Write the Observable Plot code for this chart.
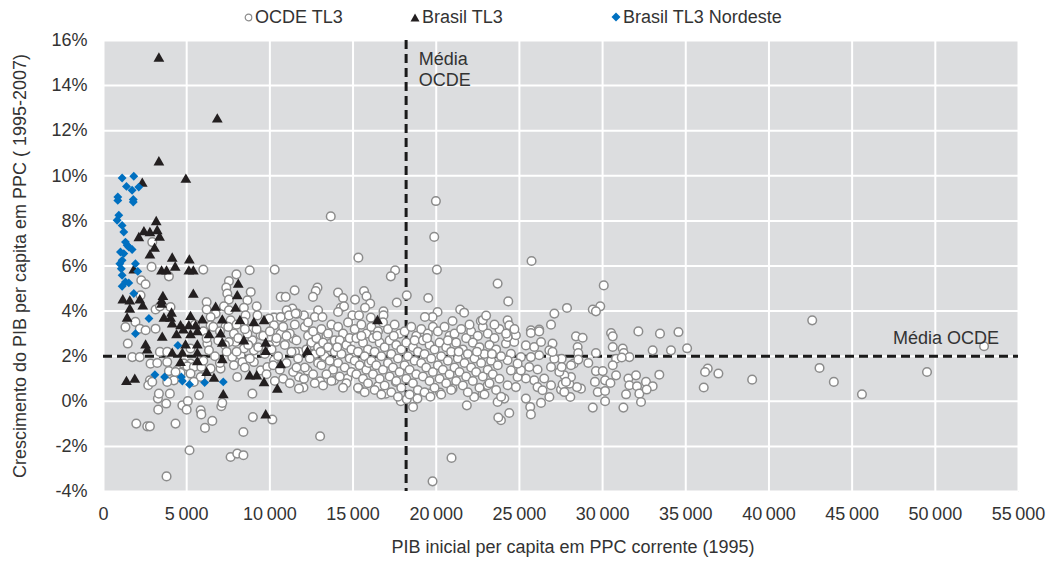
<!DOCTYPE html>
<html>
<head>
<meta charset="utf-8">
<script src="https://cdn.jsdelivr.net/npm/d3@7"></script>
<script src="https://cdn.jsdelivr.net/npm/@observablehq/plot@0.6"></script>
<style>
  html, body { margin: 0; padding: 0; background: white; }
  body { width: 1047px; height: 566px; overflow: hidden; font-family: "Liberation Sans", Arial, sans-serif; }
  #legend { position: relative; height: 30px; font-size: 18px; color: #333; }
  #legend .item { position: absolute; top: 7px; white-space: nowrap; line-height: 20px; }
  #legend svg { vertical-align: middle; margin-right: 2px; position: relative; top: -1px; }
</style>
</head>
<body>
<div id="legend">
  <span class="item" style="left:244px"><svg width="9" height="9"><circle cx="4.5" cy="4.5" r="3.3" fill="white" stroke="#8c8c8c" stroke-width="1.2"/></svg>OCDE TL3</span>
  <span class="item" style="left:410px"><svg width="10" height="9"><path d="M5,0.5 L9.5,8.5 L0.5,8.5 Z" fill="#231f20"/></svg>Brasil TL3</span>
  <span class="item" style="left:611px"><svg width="10" height="10"><path d="M5,0.5 L9.5,5 L5,9.5 L0.5,5 Z" fill="#0070c0"/></svg>Brasil TL3 Nordeste</span>
</div>
<div id="chart"></div>
<script>
// ---- tick values ----
const xTicks = [0, 5000, 10000, 15000, 20000, 25000, 30000, 35000, 40000, 45000, 50000, 55000];
const yTicks = [-4, -2, 0, 2, 4, 6, 8, 10, 12, 14, 16];

// ---- reference lines (OECD averages) ----
const oecdMeanX = [18190];
const oecdMeanY = [2.0];

// ---- series: [initial GDP per capita PPP 1995, growth % 1995-2007] ----
const oecd = [
[13660,8.2],[19980,8.88],[19880,7.29],[20040,5.84],[15320,6.37],[25730,6.22],[30070,5.14],[23690,5.22],[42600,3.59],[52930,2.44],[36320,1.45],[36160,1.3],[36960,1.23],[36080,0.61],[38990,0.96],[43040,1.48],[43900,0.86],[45590,0.31],[49500,1.3],
[13020,-1.55],[20920,-2.51],[19780,-3.55],
[17530,5.81],[17270,5.54],[12860,5.04],[12760,4.89],[12590,4.63],[14100,4.82],[14400,4.58],[15120,4.51],[15660,4.89],[15810,4.66],[16030,4.33],[15720,4.15],[17630,4.38],[18230,4.7],[19520,4.58],[14260,4.15],[14460,4.21],[14100,3.96],[12900,4.04],[12050,3.81],[12700,3.74],[13160,3.74],[14960,3.81],[15360,3.81],[16070,3.71],[16830,3.99],[16830,3.81],[20080,3.96],[21440,4.07],[21680,3.93],[19780,3.74],[19320,3.74],[22680,3.56],[20980,3.56],
[24330,4.43],[27100,3.89],[27860,4.14],[29410,4.07],[29860,4.21],[29600,3.99],[24290,3.59],[24390,3.37],[26900,3.4],[25690,3.15],[26190,3.18],
[25690,3.03],[26190,3.1],[28400,2.88],[28800,2.82],[30510,3.03],[30610,2.88],[32150,3.1],[34560,3.07],[26990,2.56],[26800,2.26],[28500,2.41],[28540,2.14],[29600,2.14],[30610,2.41],[31210,2.34],[31270,2.14],[31610,1.96],[33010,2.26],[34110,2.26],[30810,1.89],[30610,1.6],[31150,1.94],[29140,1.7],[28260,1.67],[28540,1.85],[27540,1.89],[29600,1.34],[30010,1.34],[30810,1.15],[29540,0.86],[30150,0.93],[30470,0.81],[29710,0.41],[30150,0.46],[30150,0],[29410,-0.28],[31550,1.01],[32010,1.15],[31610,0.71],[32070,0.67],[32610,0.86],[33010,0.67],[32210,0.34],[32650,0.52],[32310,-0.03],[31410,0.31],[31250,-0.28],[33410,1.18],[28060,0.19],[28700,0.56],[28460,0.63],[28000,0.78],[27500,0.52],[27600,0.75],[28100,1.08],[27700,1.15],[27400,1.3],[26900,0.71],[26800,0.19],[26300,-0.07],[25650,-0.25],[25690,-0.58],[24390,-0.52],[25390,0.12],[24090,0.12],[23890,-0.84],[26490,1.01],[25890,0.93],[25390,1.01],[24890,1.08],[26090,1.41],[25590,1.52],[25090,1.37],[24490,1.37],[24290,0.71],[24790,0.63],[26090,0.63],[26390,0.49],[27700,0.41],[27540,1.52],[26900,1.52],[27100,1.89],[26190,2.04],[25690,1.96],[25090,1.96],[24490,2.11],[24290,1.82],[24890,1.67],[25390,2.48],[25890,2.41],[26300,2.63],[24690,2.63],[24190,2.56],[24790,2.93],[24290,2.85],[26990,2.19],[28100,1.6],[27800,0.86],
[35080,2.35],[33450,3.0],
[17870,0],[18230,0.09],[18610,-0.25],[23730,-0.72],[23690,-0.03],[21840,-0.18],[12020,0.61],[13020,0.89],[15360,0.56],[16970,0.34],[16500,0.67],[18870,0.12],[19570,0.34],[20230,0.39],[20980,0.56],[22280,0.19],[22790,0.34],[23090,0.71],[12260,1.37],[13860,0.93],[14660,1.01],[17570,0.86],[12460,2.48],
[2930,7.06],[2890,5.96],[2270,5.37],[2530,5.19],[3930,5.54],[6000,5.84],[8790,5.81],[10290,5.84],[7990,5.63],[7540,5.33],[7380,5.04],[7440,4.78],[7540,4.51],[8850,4.85],[8650,4.48],[6200,4.4],[2230,4.7],[3130,4.07],[3390,4.21],[4030,4.18],[7240,4.21],[7540,4.04],[8440,4.15],[9210,4.21],[8540,3.81],[9250,3.81],[10250,3.71],[10650,4.63],[10950,4.63],[11490,4.92],[11350,4.11],[11010,4.04],[11650,3.89],[10810,3.71],[9950,3.67],[7640,3.59],[6740,3.89],[6440,3.74],[6200,4.07],[1320,3.29],[1920,3.52],[2180,3.22],[3130,3.22],[6440,3.37],[7340,3.33],[8440,3.52],[8750,3.22],[10250,3.37],[10650,3.74],[11150,3.81],[11550,3.89],
[1460,2.56],[1730,1.96],[2180,1.96],[2530,3.15],[2830,1.67],[3230,1.7],[3830,1.74],[3930,1.34],[4430,1.37],[4230,0.93],[3830,0.86],[2790,0.93],[2690,0.71],[2930,0.86],[4630,1.26],[5230,1.67],[6440,1.45],[5740,0.27],[3990,0.34],[3270,0.12],[3770,-0.1],[3290,-0.37],[4740,-0.18],[5070,0.01],[5000,-0.37],[5840,-0.4],[5880,-0.58],[7080,-0.22],[7140,-0.07],[8950,0.34],[8040,1.08],[8980,-0.7],[10150,-0.81],[6540,-0.87],[6100,-1.18],[4330,-0.99],[1970,-0.99],[2630,-1.11],[2790,-1.11],[8410,-1.36],[5170,-2.17],[7640,-2.47],[8040,-2.32],[8410,-2.39],[3790,-3.33],[10650,3.0],[11410,2.78],[11750,2.19],[11510,2.19],[11750,1.08],[11750,0.56],[10350,2.63],[9950,2.48],[9450,2.93],[8950,2.71],[8650,3.0],[7840,3.0],[7940,2.63],[7540,2.63],[6240,2.56],[6340,2.26],[7740,1.96],[8240,2.04],[9040,1.74],[9450,1.37],[9850,1.52],[10250,1.82],[9040,2.26],[8440,2.34],[5230,2.34],[3390,2.19],[3830,2.19],[4830,1.67],[4330,1.3],[5040,1.55],[5430,1.52],[5230,1.23],[5880,1.52],[8350,1.74],[7840,1.6],[7040,1.45],[5840,1.08],[5430,0.86],[3330,0.34],
[12100,3.3],[12300,2.9],[12500,2.6],[12200,2.3],[12700,2.1],[12400,1.9],[12900,1.7],[12100,1.5],[12600,1.2],[12800,2.8],[12300,3.5],[12600,3.1],[12900,2.4],[12050,1.0],[12700,0.8],
[13100,3.2],[13400,2.9],[13700,3.4],[13200,2.6],[13500,2.4],[13900,2.2],[13300,2.0],[13600,1.8],[13100,1.6],[13800,1.4],[13400,1.2],[13700,0.9],[13200,0.7],[13900,2.7],[13500,3.0],[13050,2.2],
[14100,3.3],[14400,3.0],[14700,3.5],[14200,2.7],[14600,2.5],[14900,2.3],[14300,2.1],[14800,1.9],[14100,1.7],[14500,1.5],[14900,1.3],[14200,1.1],[14600,0.8],[14400,0.6],[14800,2.8],[14050,2.4],
[15100,3.2],[15500,3.4],[15800,3.0],[15200,2.8],[15600,2.6],[15900,2.3],[15300,2.2],[15700,2.0],[15100,1.8],[15400,1.6],[15800,1.4],[15200,1.2],[15600,1.0],[15900,0.8],[15300,0.6],[15700,0.4],[15500,2.9],[15950,1.7],
[16100,3.3],[16500,3.1],[16800,3.5],[16200,2.8],[16600,2.6],[16900,2.4],[16300,2.2],[16700,2.0],[16100,1.8],[16400,1.6],[16800,1.4],[16200,1.2],[16600,1.0],[16900,0.7],[16300,0.5],[16700,0.3],[16450,2.9],
[17100,3.2],[17500,3.4],[17800,3.0],[17200,2.7],[17600,2.5],[17900,2.3],[17300,2.1],[17700,1.9],[17100,1.7],[17400,1.5],[17800,1.3],[17200,1.1],[17600,0.9],[17900,0.6],[17300,0.4],[17700,0.2],[17450,2.9],
[18100,3.1],[18500,3.3],[18800,2.9],[18200,2.6],[18600,2.4],[18900,2.2],[18300,2.0],[18700,1.8],[18100,1.6],[18400,1.4],[18800,1.2],[18200,1.0],[18600,0.8],[18900,0.5],[18400,0.3],[18700,2.7],
[19100,3.2],[19500,3.0],[19800,3.3],[19200,2.7],[19600,2.5],[19900,2.3],[19300,2.1],[19700,1.9],[19100,1.7],[19400,1.5],[19800,1.3],[19200,1.1],[19600,0.9],[19900,0.6],[19300,0.4],[19650,0.2],[19450,2.8],
[20100,3.1],[20500,3.3],[20800,2.9],[20200,2.6],[20600,2.4],[20900,2.2],[20300,2.0],[20700,1.8],[20100,1.6],[20400,1.4],[20800,1.2],[20200,1.0],[20600,0.8],[20900,0.5],[20300,0.3],[20700,2.7],
[21100,3.0],[21500,3.2],[21800,2.8],[21200,2.6],[21600,2.3],[21900,2.1],[21300,1.9],[21700,1.7],[21100,1.5],[21400,1.3],[21800,1.1],[21200,0.9],[21600,0.7],[21900,0.4],[21350,2.2],
[22100,3.1],[22500,2.9],[22800,3.3],[22200,2.6],[22600,2.4],[22900,2.1],[22300,1.9],[22700,1.7],[22100,1.5],[22400,1.3],[22800,1.1],[22200,0.9],[22600,0.6],[22900,0.3],[22450,2.2],
[23100,3.0],[23500,2.8],[23800,3.2],[23200,2.5],[23600,2.3],[23900,2.0],[23300,1.8],[23700,1.6],[23100,1.4],[23400,1.2],[23800,1.0],[23200,0.8],[23600,0.5],[23900,0.2],[23350,2.1],
[9200,3.2],[9600,2.9],[10000,3.1],[10400,2.8],[10800,3.3],[11200,3.0],[11600,2.7],[9300,2.4],[9700,2.1],[10100,2.3],[10500,2.0],[10900,2.5],[11300,2.2],[11700,1.9],[10200,1.6],[10600,1.4],[11000,1.7],[11400,1.3],[10800,1.0],[11200,0.8],[11600,1.5],[9800,1.2],[10300,0.9],[11000,2.9],[11500,3.4],
[5500,3.4],[6000,3.1],[6600,3.3],[7000,3.1],[7500,3.3],[8000,3.4],[8500,3.2],[6200,2.8],[6900,2.7],[7300,2.5],[8100,2.8],[8700,2.5],[6700,2.0],[7400,2.2],[8000,2.2],[8800,1.9],[6000,1.8],[7000,1.7],[8500,1.5],
[22000,3.4],[22800,3.6],[23500,3.4],[24200,3.0],[23000,3.8],[24700,3.2]
];

const brasil = [
[3330,15.2],[6840,12.5],[3330,10.6],[4950,9.83],[2330,9.65],
[3170,7.95],[2430,7.5],[2790,7.46],[3230,7.55],[3370,7.26],[2125,7.24],[3070,6.77],[2790,6.47],[4130,6.33],[5160,6.25],[3490,5.76],[3790,5.76],[4310,5.93],[5130,5.76],[5400,5.76],[1820,5.8],[8100,5.17],[5400,4.73],[3570,4.63],[3490,4.43],[1160,4.48],[1580,4.43],[2180,4.48],[2360,4.21],[8040,4.66],[7940,4.11],[6740,4.15],[1580,4.07],[3490,4.29],[4090,3.89],[4030,3.67],[3630,3.67],[1420,3.67],[5230,3.74],[5940,3.59],[7140,3.59],[8200,3.56],[9040,3.47],[9650,3.56],[4130,3.41],[4630,3.33],[5130,3.33],[5540,3.33],
[3530,2.82],[4390,2.93],[4800,3.15],[5230,2.93],[5640,3.07],[6340,2.93],[7040,2.97],[8440,2.66],[9750,2.56],[2530,2.48],[2630,2.26],[4930,2.48],[5640,2.48],[7140,2.56],[4130,2.11],[4740,2.11],[5640,2.11],[9750,2.19],[4630,1.7],[5640,1.74],[7140,1.82],[10650,1.6],[6200,1.26],[6640,1.0],[1380,0.86],[1880,0.96],[8790,1.11],[9210,1.11],[9650,0.81],[10450,0.52],[7200,0.27],[9750,-0.62],
[16470,3.56],[12260,2.19]
];

const nordeste = [
[1120,9.9],[1820,9.98],[1380,9.53],[1720,9.36],[2120,9.5],[860,9.06],[1790,8.95],
[860,8.91],[1790,8.84],[920,8.25],[820,8.03],[1120,7.8],[1220,7.51],[1320,7.06],[1420,6.92],[1720,6.73],[1020,6.62],[1220,6.55],[1520,6.84],[1120,6.25],[980,6.1],[1920,6.1],[2060,5.76],[1070,5.88],[1120,5.59],[1320,5.29],[1120,5.1],[1520,5.25],[1820,4.78],[2730,3.67],
[1920,3.0],[4470,2.48],[3090,1.18],[3670,1.08],[4680,1.08],[4740,0.9],[5170,0.75],[6080,0.83],[7200,0.86]
];

// ---- text annotations ----
const annotations = [
  {x: 18950, y: 14.75, text: "Média\nOCDE"},
  {x: 47450, y: 2.84, text: "Média OCDE"}
];
const xLabel = "PIB inicial per capita em PPC corrente (1995)";
const yLabel = "Crescimento do PIB per capita em PPC ( 1995-2007)";

const fmtX = d => d === 0 ? "0" : d3.format(",")(d).replace(/,/g, "\u2009");

const chart = Plot.plot({
  width: 1047,
  height: 536,
  marginTop: 10,
  marginBottom: 75,
  marginLeft: 103,
  marginRight: 29,
  style: {fontFamily: "'Liberation Sans', Arial, sans-serif", fontSize: "18px", color: "#333", background: "white", overflow: "visible"},
  x: {domain: [0, 55000]},
  y: {domain: [-4, 16]},
  marks: [
    Plot.frame({fill: "#dcdddf", stroke: null}),
    Plot.gridX(xTicks, {stroke: "white", strokeOpacity: 1, strokeWidth: 2}),
    Plot.gridY(yTicks, {stroke: "white", strokeOpacity: 1, strokeWidth: 2}),
    Plot.axisX(xTicks, {tickSize: 0, tickPadding: 16, tickFormat: fmtX, label: null, fill: "#333", fontSize: 18}),
    Plot.axisY(yTicks, {tickSize: 0, tickPadding: 16, tickFormat: d => d + "%", label: null, fill: "#333", fontSize: 18}),
    Plot.ruleX(oecdMeanX, {x: d => d, stroke: "#1a1a1a", strokeWidth: 3, strokeDasharray: "9,5"}),
    Plot.ruleY(oecdMeanY, {y: d => d, stroke: "#1a1a1a", strokeWidth: 3, strokeDasharray: "9,5"}),
    Plot.dot(oecd, {x: d => d[0], y: d => d[1], r: 4.3, fill: "white", stroke: "#8c8c8c", strokeWidth: 1.5}),
    Plot.dot(brasil, {x: d => d[0], y: d => d[1], symbol: "triangle", r: 4, fill: "#231f20", stroke: "none"}),
    Plot.dot(nordeste, {x: d => d[0], y: d => d[1], symbol: "diamond2", r: 4, fill: "#0070c0", stroke: "none"}),
    Plot.text(annotations, {x: "x", y: "y", text: "text", textAnchor: "start", lineAnchor: "middle", lineHeight: 1.17, fontSize: 18, fill: "#333"}),
    Plot.text([xLabel], {text: d => d, frameAnchor: "bottom", dy: 61, dx: 12, fontSize: 18, fill: "#333", textAnchor: "middle"}),
    Plot.text([yLabel], {text: d => d, frameAnchor: "left", rotate: -90, dx: -83, fontSize: 18, fill: "#333", textAnchor: "middle"})
  ]
});
document.getElementById("chart").appendChild(chart);
</script>
</body>
</html>
